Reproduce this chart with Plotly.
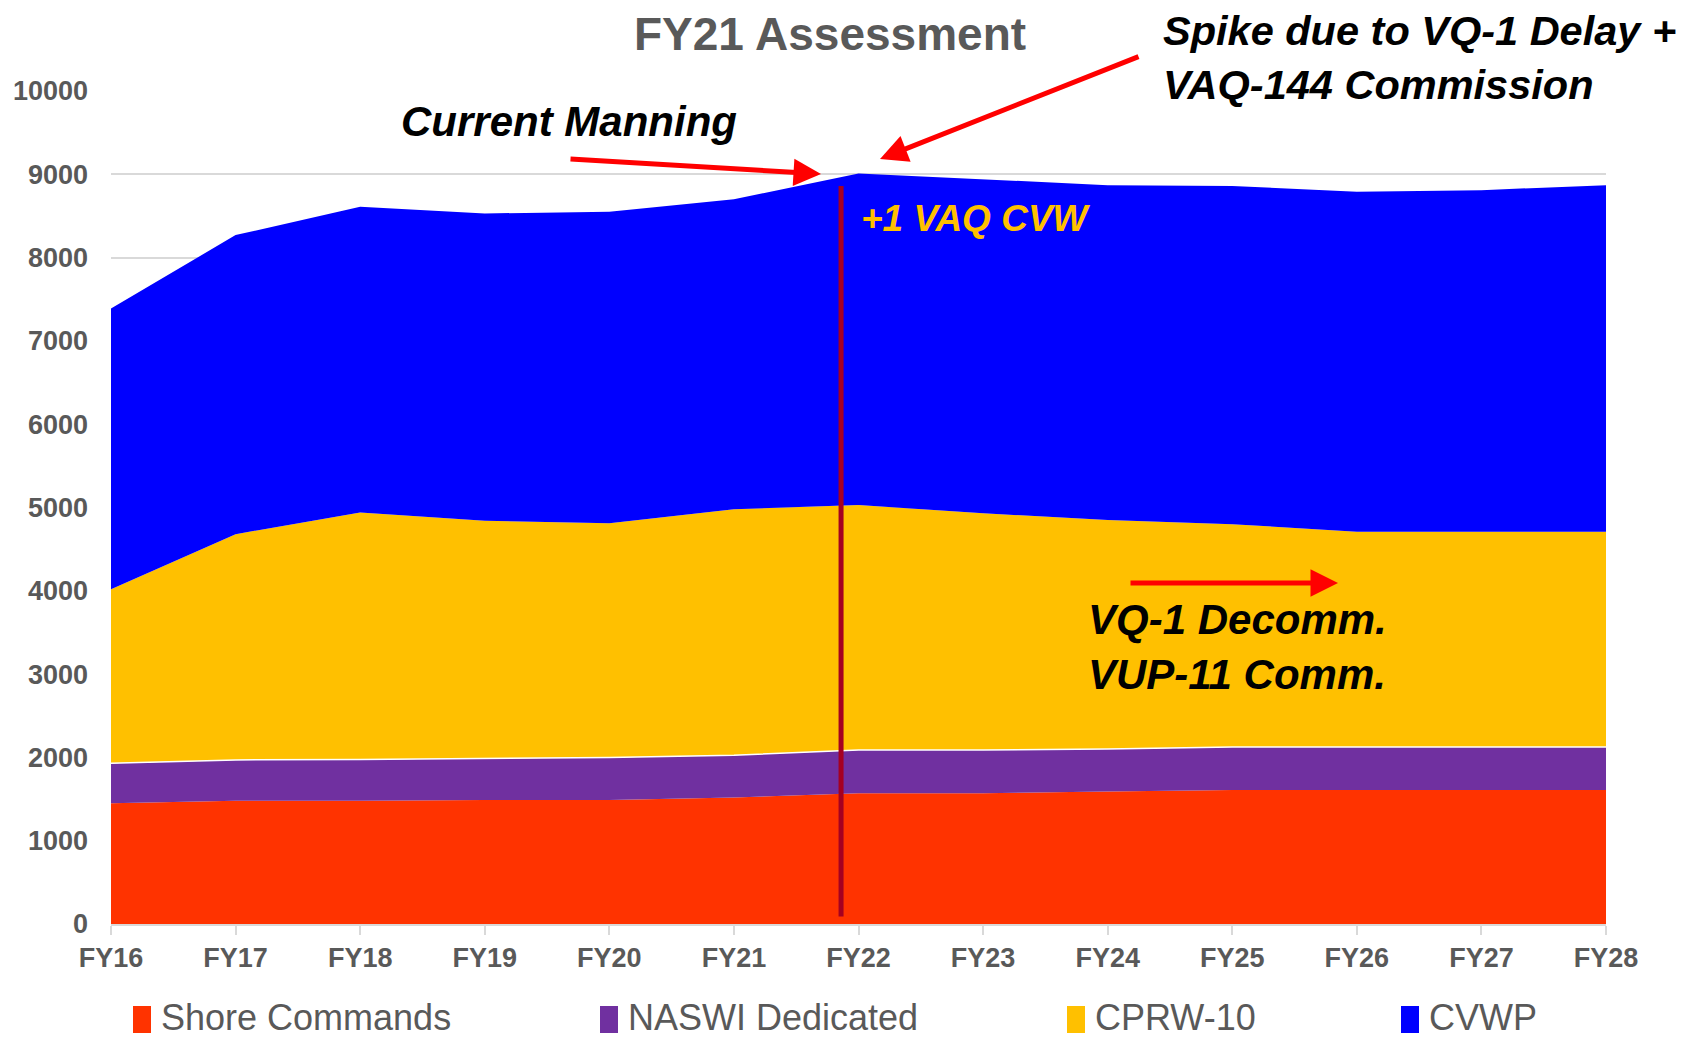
import plotly.graph_objects as go

years = ["FY16", "FY17", "FY18", "FY19", "FY20", "FY21", "FY22", "FY23", "FY24", "FY25", "FY26", "FY27", "FY28"]
shore_commands = [1450, 1480, 1480, 1490, 1490, 1520, 1570, 1570, 1590, 1610, 1610, 1610, 1610]
naswi_dedicated = [480, 490, 495, 495, 510, 505, 520, 520, 510, 515, 515, 515, 515]
cprw_10 = [2090, 2710, 2965, 2855, 2810, 2955, 2940, 2840, 2750, 2675, 2585, 2585, 2585]
cvwp = [3370, 3590, 3670, 3690, 3740, 3720, 3980, 4010, 4020, 4060, 4080, 4100, 4160]
y_ticks = [0, 1000, 2000, 3000, 4000, 5000, 6000, 7000, 8000, 9000, 10000]

series_names = ["Shore Commands", "NASWI Dedicated", "CPRW-10", "CVWP"]
series_values = [shore_commands, naswi_dedicated, cprw_10, cvwp]
colors = ["#FF3300", "#7030A0", "#FFC000", "#0000FF"]

# page has an 8px body margin; figure coordinates = page coordinates - 8
OFF = 8
W, H = 1694 - 2 * OFF, 1046 - 2 * OFF
L, T = 111 - OFF, 91 - OFF
R = W - (1606 - OFF)
B = H - (924 - OFF)
PW, PH = W - L - R, H - T - B

def px(x):
    return (x - OFF - L) / PW

def py(y):
    return (H - B - (y - OFF)) / PH

xs = list(range(len(years)))
fig = go.Figure()
for i, (name, vals, col) in enumerate(zip(series_names, series_values, colors)):
    fig.add_trace(go.Scatter(
        x=xs, y=vals, name=name, stackgroup="one", mode="lines",
        fillcolor=col,
        line=dict(width=1.5 if i == 1 else 0, color="white" if i == 1 else col),
        showlegend=False,
    ))

GRAY = "#595959"
SANS = "Liberation Sans, Arial, sans-serif"

fig.update_layout(
    width=W, height=H,
    margin=dict(l=L, r=R, t=T, b=B, autoexpand=False),
    plot_bgcolor="white", paper_bgcolor="white",
    xaxis=dict(
        range=[0, 12], tickmode="array", tickvals=xs, ticktext=years,
        showgrid=False, showline=True, linecolor="#D9D9D9", linewidth=2,
        ticks="outside", ticklen=9, tickcolor="#D9D9D9", tickwidth=2,
        tickfont=dict(family=SANS, size=27, color=GRAY, weight="bold"),
        zeroline=False, automargin=False,
    ),
    yaxis=dict(
        range=[0, 10000], tickmode="array", tickvals=y_ticks,
        ticktext=[str(v) for v in y_ticks],
        showgrid=True, gridcolor="#D9D9D9", gridwidth=2,
        showline=False, zeroline=False, ticks="",
        ticklabelstandoff=22, automargin=False,
        tickfont=dict(family=SANS, size=27, color=GRAY, weight="bold"),
    ),
)

# Vertical marker line (between FY21 and FY22)
fig.add_shape(type="line", xref="x", yref="y", x0=5.86, x1=5.86, y0=90, y1=8860,
              line=dict(color="#A50021", width=5))

ann = []
ann.append(dict(x=px(830), y=py(34), xref="paper", yref="paper", text="FY21 Assessment",
                showarrow=False, xanchor="center", yanchor="middle",
                font=dict(family=SANS, size=46, color=GRAY, weight="bold")))
ann.append(dict(x=px(569), y=py(122), xref="paper", yref="paper", text="<b><i>Current Manning</i></b>",
                showarrow=False, xanchor="center", yanchor="middle",
                font=dict(family=SANS, size=42, color="black")))
ann.append(dict(x=px(1161), y=py(58), xref="paper", yref="paper",
                text="<b><i>Spike due to VQ-1 Delay +<br>VAQ-144 Commission</i></b>",
                showarrow=False, xanchor="left", yanchor="middle", align="left",
                font=dict(family=SANS, size=41.5, color="black")))
ann.append(dict(x=px(859), y=py(219), xref="paper", yref="paper", text="<b><i>+1 VAQ CVW</i></b>",
                showarrow=False, xanchor="left", yanchor="middle",
                font=dict(family=SANS, size=37, color="#FFC000")))
ann.append(dict(x=px(1086), y=py(647), xref="paper", yref="paper",
                text="<b><i>VQ-1 Decomm.<br>VUP-11 Comm.</i></b>",
                showarrow=False, xanchor="left", yanchor="middle", align="left",
                font=dict(family=SANS, size=42, color="black")))

# Arrows
for tip, tail in [((821, 174), (569, 159)), ((880, 159), (1140, 56)), ((1338, 583), (1129, 583))]:
    ann.append(dict(x=px(tip[0]), y=py(tip[1]), xref="paper", yref="paper", text="",
                    showarrow=True, ax=tail[0] - tip[0], ay=tail[1] - tip[1],
                    arrowhead=2, arrowsize=1.1, arrowwidth=5, arrowcolor="#FF0000", standoff=0))

# Legend (manual)
legend_sw_x = [133, 600, 1067, 1401]
for name, col, sx in zip(series_names, colors, legend_sw_x):
    fig.add_shape(type="rect", xref="paper", yref="paper",
                  x0=px(sx), x1=px(sx + 18), y0=py(1033), y1=py(1006),
                  fillcolor=col, line=dict(width=0))
    ann.append(dict(x=px(sx + 26), y=py(1017), xref="paper", yref="paper", text=name,
                    showarrow=False, xanchor="left", yanchor="middle",
                    font=dict(family=SANS, size=36, color=GRAY)))

fig.update_layout(annotations=ann)
fig.write_html("out.html")
